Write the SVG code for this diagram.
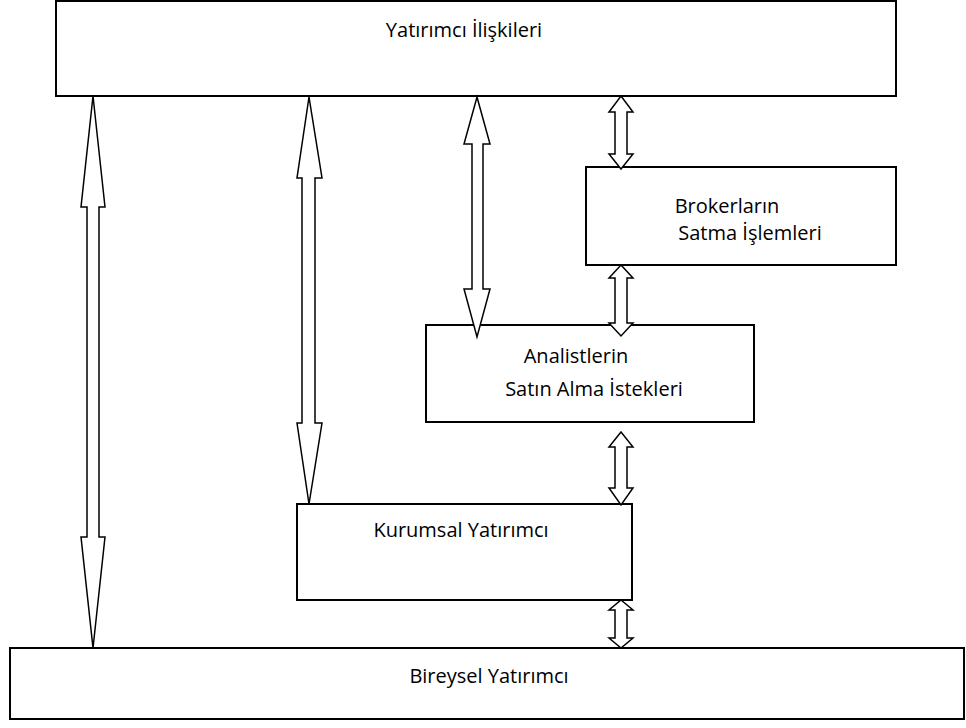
<svg xmlns="http://www.w3.org/2000/svg" width="966" height="728" viewBox="0 0 966 728">
<style>
.box{fill:#fff;stroke:#000;stroke-width:2}
.arr{fill:#fff;stroke:#000;stroke-width:1.5;stroke-linejoin:miter}
text{font-family:"Open Sans","Liberation Sans",Arial,sans-serif;font-size:20px;fill:#000;text-anchor:middle}
</style>
<rect width="966" height="728" fill="#fff"/>
<g id="yatirimci-iliskileri"><rect class="box" x="56" y="1" width="840" height="95"/><text x="464" y="37">Yatırımcı İlişkileri</text></g>
<g id="brokerlarin"><rect class="box" x="586" y="167" width="310" height="98"/><text x="727" y="213">Brokerların</text><text x="750" y="240">Satma İşlemleri</text></g>
<g id="analistlerin"><rect class="box" x="426" y="325" width="328" height="97"/><text x="576" y="363">Analistlerin</text><text x="594" y="396">Satın Alma İstekleri</text></g>
<g id="kurumsal"><rect class="box" x="297" y="504" width="335" height="96"/><text x="461" y="537">Kurumsal Yatırımcı</text></g>
<g id="bireysel"><rect class="box" x="10" y="648" width="954" height="71"/><text x="489" y="683">Bireysel Yatırımcı</text></g>
<g id="connectors">
<polygon class="arr" points="93,96 105,207 99,207 99,537 105,537 93,648 81,537 87,537 87,207 81,207"/>
<polygon class="arr" points="309,97 322,178 315,178 315,423 322,423 309,504 297,423 302,423 302,178 297,178"/>
<polygon class="arr" points="477,97 490,144 483,144 483,289 490,289 477,337 464,289 472,289 472,144 464,144"/>
<polygon class="arr" points="621,96 633,112 627,112 627,154 633,154 621,169 609,154 615,154 615,112 609,112"/>
<polygon class="arr" points="621,265 633,278 627,278 627,323 633,323 621,336 609,323 615,323 615,278 609,278"/>
<polygon class="arr" points="621,432 633,447 627,447 627,488 633,488 621,505 609,488 615,488 615,447 609,447"/>
<polygon class="arr" points="621,600 633,610 627,610 627,638 633,638 621,648 609,638 615,638 615,610 609,610"/>
</g>
</svg>
